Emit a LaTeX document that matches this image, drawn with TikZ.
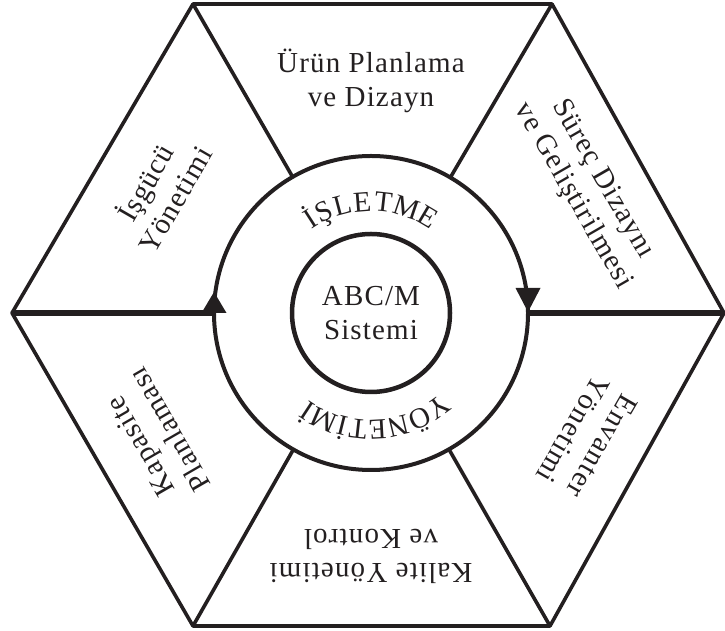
\documentclass[tikz,border=0pt]{standalone}
\usepackage{fontspec}
\setmainfont{Liberation Serif}[LetterSpace=4]
\usetikzlibrary{calc}
\definecolor{ink}{RGB}{35,31,32}
\tikzset{
  lbl/.style={align=center, font=\fontsize{29}{34}\selectfont, inner sep=0pt, text=ink},
  arcl/.style={anchor=base, inner sep=0pt, font=\fontsize{29}{32}\selectfont, text=ink},
  hexedge/.style={draw=ink, line width=3.6pt, line cap=round, line join=round},
  flatedge/.style={draw=ink, line width=4.6pt},
  hspoke/.style={draw=ink, line width=6pt},
  ring/.style={draw=ink, line width=4pt},
  tri/.style={fill=ink}
}
\begin{document}
\begin{tikzpicture}[x=1pt,y=1pt]
\useasboundingbox (0,0) rectangle (725,631);
% geometry
\coordinate (O) at (371,318);
\coordinate (L) at (12,318);
\coordinate (R) at (724,318);
\coordinate (TL) at (193,627);
\coordinate (TR) at (552,627);
\coordinate (BL) at (193,5);
\coordinate (BR) at (550,5);
\coordinate (cl) at ($(O)+(180:157pt)$);
\coordinate (cr) at ($(O)+(0:157pt)$);
\coordinate (ctl) at ($(O)!157pt!(TL)$);
\coordinate (ctr) at ($(O)!157pt!(TR)$);
\coordinate (cbl) at ($(O)!157pt!(BL)$);
\coordinate (cbr) at ($(O)!157pt!(BR)$);
% hexagon
\draw[hexedge] (L) -- (TL);
\draw[flatedge] (TL) -- (TR);
\draw[hexedge] (TR) -- (R) -- (BR);
\draw[flatedge] (BR) -- (BL);
\draw[hexedge] (BL) -- (L);
% spokes
\draw[hexedge] (TL) -- (ctl);
\draw[hexedge] (TR) -- (ctr);
\draw[hexedge] (BL) -- (cbl);
\draw[hexedge] (BR) -- (cbr);
\draw[hspoke] (L) -- (cl);
\draw[hspoke] (R) -- (cr);
% circles
\draw[ring] (O) circle[radius=157pt];
\draw[ring, line width=4.5pt] (O) circle[radius=79pt];
% arrowheads
\fill[tri] ($(cl)+(-12.5,0)$) -- ($(cl)+(12.5,0)$) -- ($(cl)+(0,21)$) -- cycle;
\fill[tri] ($(cr)+(-12.5,25)$) -- ($(cr)+(12.5,25)$) -- ($(cr)+(0,1)$) -- cycle;
% arc texts (one letter per node, tops pointing outward)
\foreach \ch/\ang [count=\i] in {İ/122.8, Ş/114.8, L/104.8, E/94.5, T/83.6, M/71.4, E/59.3}
  \node[arcl, rotate=\ang-90] (top\i) at ($(O)+(\ang:102pt)$) {\ch};
\foreach \ch/\ang [count=\i] in {Y/-54.3, Ö/-65.4, N/-76.5, E/-86.8, T/-96.4, İ/-104.1, M/-113.7, İ/-123.3}
  \node[arcl, rotate=\ang-90] (bot\i) at ($(O)+(\ang:107pt)$) {\ch};
% labels
\node[lbl] (center) at (O) {ABC/M\\Sistemi};
\node[lbl] (urun) at ($(O)+(90:232pt)$) {Ürün Planlama\\ve Dizayn};
\node[lbl, rotate=-60] (surec) at ($(O)+(30:250pt)$) {Süreç Dizaynı\\ve Geliştirilmesi};
\node[lbl, rotate=-120] (envanter) at ($(O)+(-30:250pt)$) {Envanter\\Yönetimi};
\node[lbl, rotate=180] (kalite) at ($(O)+(-90:243pt)$) {Kalite Yönetimi\\ve Kontrol};
\node[lbl, rotate=120] (kapasite) at ($(O)+(-150:250pt)$) {Kapasite\\Planlaması};
\node[lbl, rotate=60] (isgucu) at ($(O)+(150:245pt)$) {İşgücü\\Yönetimi};
\end{tikzpicture}
\end{document}
